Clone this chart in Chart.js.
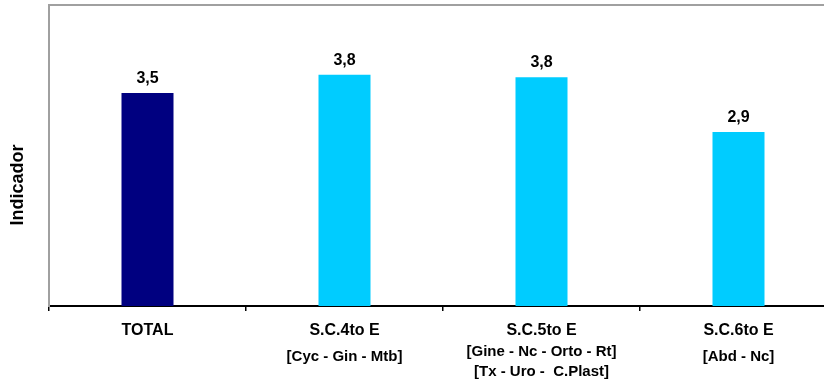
<!DOCTYPE html>
<html>
<head>
<meta charset="utf-8">
<script src="https://cdn.jsdelivr.net/npm/chart.js@4/dist/chart.umd.min.js"></script>
<style>
  html, body { margin: 0; padding: 0; background: #fff; overflow: hidden; }
  #wrap { width: 840px; height: 383px; }
</style>
</head>
<body>
<div id="wrap"><canvas id="chart" width="840" height="383"></canvas></div>
<script>
// Data
const categories = ['TOTAL', 'S.C.4to E', 'S.C.5to E', 'S.C.6to E'];
const subLabels = [
  [],
  ['[Cyc - Gin - Mtb]'],
  ['[Gine - Nc - Orto - Rt]', '[Tx - Uro -  C.Plast]'],
  ['[Abd - Nc]']
];
const values = [3.54, 3.84, 3.80, 2.89];
const barColors = ['#000080', '#00CCFF', '#00CCFF', '#00CCFF'];
const yTitle = 'Indicador';

const FONT = "'Liberation Sans', Arial, sans-serif";

function fmt(v) {
  return v.toFixed(1).replace('.', ',');
}

// Plot frame (gray top/right line), value labels, sub labels, y title
const extrasPlugin = {
  id: 'extras',
  beforeDatasetsDraw(chart) {
    const a = chart.chartArea;
    const ctx = chart.ctx;
    ctx.save();
    ctx.strokeStyle = '#a0a0a0';
    ctx.lineWidth = 2;
    ctx.beginPath();
    ctx.moveTo(a.left, a.bottom);
    ctx.lineTo(a.left, a.top);
    ctx.lineTo(a.right, a.top);
    ctx.lineTo(a.right, a.bottom);
    ctx.stroke();
    ctx.restore();
  },
  afterDraw(chart) {
    const ctx = chart.ctx;
    const meta = chart.getDatasetMeta(0);
    const xs = chart.scales.x;
    ctx.save();
    ctx.fillStyle = '#000';
    ctx.textAlign = 'center';

    // value labels
    ctx.font = 'bold 16px ' + FONT;
    ctx.textBaseline = 'alphabetic';
    meta.data.forEach((bar, i) => {
      ctx.fillText(fmt(values[i]), bar.x, bar.y - 10);
    });

    // sub labels under categories
    ctx.font = 'bold 15px ' + FONT;
    ctx.textBaseline = 'middle';
    subLabels.forEach((lines, i) => {
      const x = xs.getPixelForTick(i);
      if (lines.length === 1) {
        ctx.fillText(lines[0], x, 357);
      } else {
        lines.forEach((t, j) => ctx.fillText(t, x, 352 + j * 20));
      }
    });

    // y axis title
    ctx.font = 'bold 18px ' + FONT;
    ctx.translate(18, 185);
    ctx.rotate(-Math.PI / 2);
    ctx.fillText(yTitle, 0, 0);
    ctx.restore();
  }
};

new Chart(document.getElementById('chart'), {
  type: 'bar',
  data: {
    labels: categories,
    datasets: [{
      data: values,
      backgroundColor: barColors,
      borderWidth: 0,
      categoryPercentage: 1,
      barPercentage: 0.264
    }]
  },
  options: {
    responsive: false,
    animation: false,
    devicePixelRatio: 1,
    layout: { padding: { top: 5, right: 3, left: 0, bottom: 0 } },
    plugins: {
      legend: { display: false },
      tooltip: { enabled: false }
    },
    scales: {
      x: {
        offset: true,
        grid: {
          offset: true,
          drawOnChartArea: false,
          drawTicks: true,
          tickLength: 5,
          color: '#000',
          lineWidth: 1.5
        },
        border: { display: true, color: '#000', width: 2 },
        ticks: {
          color: '#000',
          padding: 10,
          maxRotation: 0,
          autoSkip: false,
          font: { family: FONT, size: 16, weight: 'bold' }
        },
        afterFit(scale) { scale.height = 77; }
      },
      y: {
        min: 0,
        max: 5,
        grid: { display: false, drawTicks: false },
        border: { display: true, color: '#a0a0a0', width: 2 },
        ticks: { display: false },
        afterFit(scale) { scale.width = 49; }
      }
    }
  },
  plugins: [extrasPlugin]
});
</script>
</body>
</html>
